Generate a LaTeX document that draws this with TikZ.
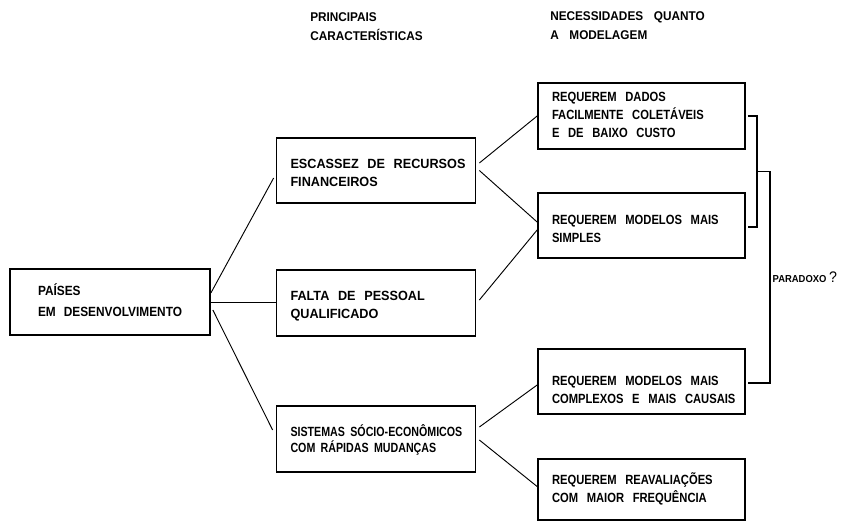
\documentclass[tikz,border=0pt]{standalone}
\usepackage{fontspec}
\usepackage{tikz}
\usetikzlibrary{positioning,calc}

\newfontfamily\caixafont{Liberation Sans}[FakeStretch=0.84]
\newfontfamily\paisesfont{Liberation Sans}[FakeStretch=0.89]
\newfontfamily\meiofont{Liberation Sans}[FakeStretch=0.95]
\newfontfamily\estreitafont{Liberation Sans}[FakeStretch=0.8]
\newfontfamily\titulofont{Liberation Sans}[FakeStretch=0.93]

\newcommand\fonteCaixa{\caixafont\bfseries\fontsize{10}{13.5}\selectfont\def\espaco{6.5pt}}
\newcommand\fontePaises{\paisesfont\bfseries\fontsize{10}{15.75}\selectfont\def\espaco{6pt}}
\newcommand\fonteMeio{\meiofont\bfseries\fontsize{10}{13.5}\selectfont\def\espaco{6.5pt}}
\newcommand\fonteEstreita{\estreitafont\bfseries\fontsize{10}{11}\selectfont\def\espaco{4pt}}
\newcommand\fonteTitulo{\titulofont\bfseries\fontsize{9.5}{14.25}\selectfont\def\espaco{8pt}}
% texto de caixa, baixado de #1 (opcional)
\newcommand\linhas[2][0pt]{\raisebox{-#1}[\height][\depth]{\spaceskip=\espaco\relax\begin{tabular}{@{}l@{}}#2\end{tabular}}}

\tikzset{
  caixa/.style={draw, line width=1.3pt, inner xsep=10.5pt, inner ysep=0pt,
    minimum height=49pt, font=\fonteCaixa},
  meio/.style={caixa, text width=128.25pt, font=\fonteMeio},
  direita/.style={caixa, text width=134.25pt},
  cabecalho/.style={anchor=west, inner sep=0pt, font=\fonteTitulo},
  liga/.style={line width=0.7pt},
  chave/.style={line width=1.3pt}
}

\begin{document}
\begin{tikzpicture}[x=0.75pt,y=0.75pt,yscale=-1]
\useasboundingbox (0,0) rectangle (850,522);

% titulos das colunas
\node (carac) [cabecalho] at (310,27.5) {\linhas{PRINCIPAIS\\CARACTERÍSTICAS}};
\node (necess) [cabecalho] at (550,26) {\linhas{NECESSIDADES QUANTO\\A MODELAGEM}};

% caixas
\node (paises) [caixa, inner xsep=21pt, text width=108pt, font=\fontePaises] at (110,302) {\linhas{PAÍSES\\EM DESENVOLVIMENTO}};

\node (escassez) [meio] at (376,170.5) {\linhas[2.5pt]{ESCASSEZ DE RECURSOS\\FINANCEIROS}};
\node (falta) [meio] at (376,303) {\linhas[2pt]{FALTA DE PESSOAL\\QUALIFICADO}};
\node (sistemas) [meio, font=\fonteEstreita] at (376,439) {\linhas[1.5pt]{SISTEMAS SÓCIO-ECONÔMICOS\\COM RÁPIDAS MUDANÇAS}};

\node (dados) [direita] at (641.5,116) {\linhas{REQUEREM DADOS\\FACILMENTE COLETÁVEIS\\E DE BAIXO CUSTO}};
\node (simples) [direita] at (641.5,225.5) {\linhas[3pt]{REQUEREM MODELOS MAIS\\SIMPLES}};
\node (complexos) [direita] at (641.5,381.5) {\linhas[7pt]{REQUEREM MODELOS MAIS\\COMPLEXOS E MAIS CAUSAIS}};
\node (reav) [direita, minimum height=46pt] at (641.5,489.5) {\linhas{REQUEREM REAVALIAÇÕES\\COM MAIOR FREQUÊNCIA}};

% ligacoes
\draw [liga] ($(paises.east)+(0,-9)$) -- ($(escassez.west)+(-2,7.5)$);
\draw [liga] (paises.east) -- (paises.east -| falta.west);
\draw [liga] ($(paises.east)+(2,8)$) -- ($(sistemas.west)+(-3,-9)$);

\draw [liga] ($(escassez.east)+(3,-7.5)$) -- (dados.west);
\draw [liga] ($(escassez.east)+(3,0)$) -- ($(simples.west)+(0,-3.5)$);
\draw [liga] ($(falta.east)+(3,-3)$) -- ($(simples.west)+(0,4.5)$);
\draw [liga] ($(sistemas.east)+(3,-12)$) -- ($(complexos.west)+(0,3.5)$);
\draw [liga] ($(sistemas.east)+(3,1)$) -- ($(reav.west)+(0,-3)$);

% chaves do paradoxo
\draw [chave] ($(dados.east)+(2,0)$) -- ++(9,0) |- ($(simples.east)+(2,1.5)$) coordinate[pos=0.25] (meiochave);
\draw [chave] (meiochave) -- ++(13,0) |- ($(complexos.east)+(2,1.5)$)
  node (paradoxo) [pos=0.25, anchor=west, inner sep=1.5pt, font=\titulofont\bfseries\fontsize{7.6}{9}\selectfont]
  {PARADOXO {\mdseries\fontsize{11.5}{11}\selectfont ?}};

\end{tikzpicture}
\end{document}
